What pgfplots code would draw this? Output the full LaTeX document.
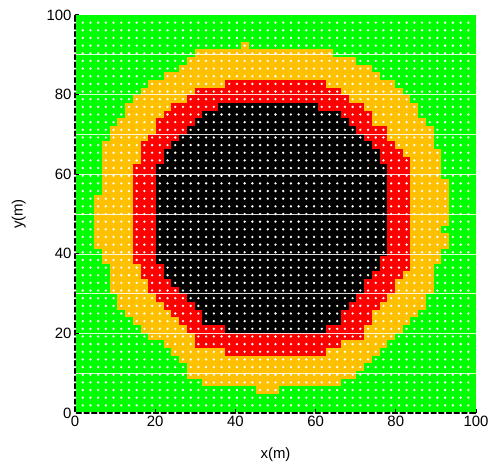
\documentclass[border=0pt]{standalone}
\usepackage{pgfplots}
\usepackage{pgfplotstable}
\pgfplotsset{compat=1.18}
\usepackage{fontspec}
\setmainfont{Liberation Sans}
\definecolor{mgreen}{RGB}{0,255,0}
\definecolor{morange}{RGB}{255,192,0}
\definecolor{mred}{RGB}{255,0,0}

% rows r (grid index, spacing 100/52 m), first and last column L, R of each zone
\pgfplotstableread{
r L R
3 24 26
4 17 34
5 15 36
6 15 37
7 14 38
8 13 39
9 12 40
10 10 41
11 9 42
12 8 43
13 7 44
14 6 45
15 6 45
16 5 46
17 5 46
18 5 46
19 5 46
20 4 47
21 4 47
22 3 48
23 3 48
24 3 47
25 3 48
26 3 48
27 3 48
28 3 48
29 4 48
30 4 48
31 4 47
32 4 47
33 4 47
34 4 47
35 4 46
36 5 46
37 5 46
38 6 45
39 7 44
40 7 44
41 8 43
42 9 42
43 10 41
44 12 39
45 14 38
46 15 36
47 16 33
48 22 22
}\orangetab

\pgfplotstableread{
r L R
8 20 32
9 16 34
10 16 37
11 15 37
12 14 38
13 13 38
14 12 39
15 11 40
16 10 41
17 10 41
18 9 42
19 9 43
20 8 43
21 8 43
22 8 43
23 8 43
24 8 43
25 8 43
26 8 43
27 8 43
28 8 43
29 8 43
30 8 43
31 8 43
32 8 43
33 9 43
34 9 42
35 9 41
36 10 40
37 11 40
38 11 38
39 12 38
40 13 37
41 15 35
42 16 34
43 20 32
}\redtab

\pgfplotstableread{
r L R
11 20 32
12 17 34
13 17 34
14 16 35
15 15 36
16 14 37
17 13 37
18 12 38
19 12 39
20 11 39
21 11 40
22 11 40
23 11 40
24 11 40
25 11 40
26 11 40
27 11 40
28 11 40
29 11 40
30 11 40
31 11 40
32 11 40
33 12 39
34 12 39
35 13 38
36 14 37
37 15 36
38 16 35
39 17 34
40 19 31
}\blacktab

\begin{document}
\begin{tikzpicture}
\begin{axis}[
  scale only axis, width=401bp, height=398bp,
  xmin=0, xmax=52, ymin=0, ymax=52,
  axis background/.style={fill=mgreen},
  axis x line*=bottom, axis y line*=left,
  axis line style={line width=1.6bp, black},
  xtick={0,10.4,20.8,31.2,41.6,52}, xticklabels={0,20,40,60,80,100},
  ytick={0,10.4,20.8,31.2,41.6,52}, yticklabels={0,20,40,60,80,100},
  tick align=inside, major tick length=4bp,
  tick style={black, line width=1bp},
  minor ytick={5.2,10.4,15.6,20.8,26,31.2,36.4,41.6,46.8},
  minor tick length=0pt,
  yminorgrids=true,
  minor grid style={white, line width=0.6bp, opacity=0.85},
  extra y ticks={0,1,...,51}, extra y tick labels={},
  extra y tick style={grid=major, major tick length=0pt},
  major grid style={white, line width=2.6bp, line cap=round, dash pattern=on 0bp off 7.7115bp},
  axis on top,
  tick label style={font=\fontsize{15}{18}\selectfont},
  xlabel={x(m)}, ylabel={y(m)},
  every axis x label/.style={at={(axis description cs:0.5,-0.105)}, anchor=center, font=\fontsize{15}{18}\selectfont},
  every axis y label/.style={at={(axis description cs:-0.14,0.5)}, rotate=90, anchor=center, font=\fontsize{15}{18}\selectfont},
  /pgf/number format/assume math mode=true,
]
\addplot[quiver={u={\thisrow{R}-\thisrow{L}+1}, v=0}, -, line width=7.8bp, draw=morange]
  table[x expr={\thisrow{L}-0.5}, y=r] {\orangetab};
\addplot[quiver={u={\thisrow{R}-\thisrow{L}+1}, v=0}, -, line width=7.8bp, draw=mred]
  table[x expr={\thisrow{L}-0.5}, y=r] {\redtab};
\addplot[quiver={u={\thisrow{R}-\thisrow{L}+1}, v=0}, -, line width=7.8bp, draw=black]
  table[x expr={\thisrow{L}-0.5}, y=r] {\blacktab};
\end{axis}
\path ([shift={(-75bp,-54bp)}]current axis.south west) rectangle ([shift={(21bp,15bp)}]current axis.north east);
\end{tikzpicture}
\end{document}
